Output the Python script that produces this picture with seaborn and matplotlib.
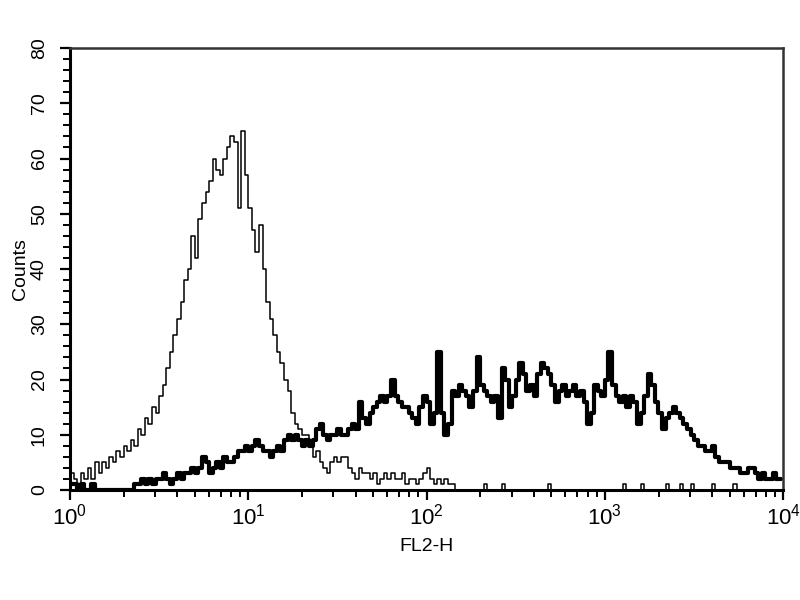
import numpy as np
import pandas as pd
import seaborn as sns
import matplotlib.pyplot as plt
from matplotlib.ticker import MultipleLocator, LogLocator, NullFormatter, FixedLocator

# 200 log channels from 10^0 to 10^4
n_channels = 200
channel_edges = np.logspace(0, 4, n_channels + 1)
channels = np.sqrt(channel_edges[:-1] * channel_edges[1:])

# control (thin line)
control = [
    3, 2, 1, 3, 2, 4, 2, 5, 3, 5, 4, 6, 5, 7, 6, 8, 7, 9, 8, 11,
    10, 13, 12, 15, 14, 17, 19, 22, 25, 28, 31, 34, 38, 40, 46, 42, 49, 52, 54, 56,
    60, 58, 57, 60, 62, 64, 63, 51, 65, 57, 51, 47, 43, 48, 40, 34, 31, 28, 25, 23,
    20, 18, 14, 12, 11, 10, 10, 8, 6, 7, 5, 4, 3, 5, 6, 5, 6, 6, 4, 3,
    2, 4, 3, 3, 2, 3, 1, 2, 3, 2, 3, 2, 2, 3, 1, 2, 2, 1, 2, 3,
    4, 2, 1, 2, 1, 2, 1, 1, 0, 0, 0, 0, 0, 0, 0, 0, 1, 0, 0, 0,
    0, 1, 0, 0, 0, 0, 0, 0, 0, 0, 0, 0, 0, 0, 1, 0, 0, 0, 0, 0,
    0, 0, 0, 0, 0, 0, 0, 0, 0, 0, 0, 0, 0, 0, 0, 1, 0, 0, 0, 0,
    1, 0, 0, 0, 0, 0, 0, 1, 0, 0, 0, 1, 0, 0, 1, 0, 0, 0, 0, 0,
    1, 0, 0, 0, 0, 0, 1, 0, 0, 0, 0, 0, 0, 0, 0, 0, 0, 0, 0, 0,
]

# stained (thick line)
stained = [
    1, 1, 0, 1, 0, 0, 1, 0, 0, 0, 0, 0, 0, 0, 0, 0, 0, 0, 1, 1,
    2, 1, 2, 1, 2, 2, 3, 2, 1, 2, 3, 2, 3, 3, 4, 3, 4, 6, 5, 3,
    4, 5, 4, 6, 5, 5, 6, 7, 7, 8, 7, 8, 9, 8, 7, 7, 6, 7, 8, 7,
    9, 10, 9, 10, 9, 8, 9, 8, 9, 11, 12, 10, 9, 10, 10, 11, 10, 10, 11, 12,
    11, 16, 13, 12, 14, 15, 16, 17, 16, 17, 20, 17, 16, 15, 15, 14, 13, 12, 15, 17,
    16, 12, 14, 25, 14, 10, 12, 18, 17, 19, 18, 17, 15, 18, 24, 19, 18, 17, 16, 17,
    13, 22, 20, 15, 17, 20, 23, 21, 18, 19, 17, 21, 23, 22, 21, 19, 16, 18, 19, 17,
    18, 19, 17, 18, 16, 12, 14, 19, 18, 17, 20, 25, 19, 17, 16, 17, 15, 17, 16, 12,
    14, 17, 21, 19, 16, 14, 11, 13, 14, 15, 14, 13, 12, 11, 10, 9, 8, 8, 7, 7,
    8, 6, 5, 5, 5, 4, 4, 4, 3, 3, 4, 4, 3, 2, 3, 2, 2, 3, 2, 2,
]

df = pd.DataFrame({"FL2-H": channels, "control": control, "stained": stained})

sns.set_style("ticks")
plt.rcParams["font.family"] = ["Liberation Sans", "DejaVu Sans"]
plt.rcParams["text.color"] = "black"
plt.rcParams["axes.labelcolor"] = "black"
plt.rcParams["xtick.color"] = "black"
plt.rcParams["ytick.color"] = "black"

fig = plt.figure(figsize=(8, 6), dpi=100)
ax = fig.add_axes([0.0875, 0.1833, 0.8915, 0.7367])

sns.lineplot(data=df, x="FL2-H", y="stained", ax=ax, color="black",
             linewidth=3.0, drawstyle="steps-mid")
sns.lineplot(data=df, x="FL2-H", y="control", ax=ax, color="black",
             linewidth=1.1, drawstyle="steps-mid")

ax.set_xscale("log")
ax.set_xlim(1, 1e4)
ax.set_ylim(0, 80)

ax.xaxis.set_major_locator(FixedLocator([1, 10, 100, 1000, 10000]))
ax.set_xticklabels([r"$\mathregular{10^{0}}$", r"$\mathregular{10^{1}}$",
                    r"$\mathregular{10^{2}}$", r"$\mathregular{10^{3}}$",
                    r"$\mathregular{10^{4}}$"], fontsize=16)
ax.xaxis.set_minor_locator(LogLocator(base=10, subs=np.arange(2, 10)))
ax.xaxis.set_minor_formatter(NullFormatter())

ax.yaxis.set_major_locator(MultipleLocator(10))
ax.yaxis.set_minor_locator(MultipleLocator(2))
for lbl in ax.get_yticklabels():
    lbl.set_rotation(90)
    lbl.set_verticalalignment("center")
    lbl.set_fontsize(14)

ax.tick_params(axis="both", which="major", length=7, width=1.6, pad=3)
ax.tick_params(axis="both", which="minor", length=5, width=1.4)
ax.tick_params(axis="y", which="major", pad=9)

for side in ["left", "bottom"]:
    ax.spines[side].set_linewidth(2.2)
    ax.spines[side].set_color("black")
for side in ["top", "right"]:
    ax.spines[side].set_visible(True)
    ax.spines[side].set_linewidth(1.8)
    ax.spines[side].set_color("#333333")

ax.set_xlabel("FL2-H", fontsize=14, labelpad=6)
ax.set_ylabel("Counts", fontsize=14, labelpad=1)

fig.savefig("out.png", dpi=100)
